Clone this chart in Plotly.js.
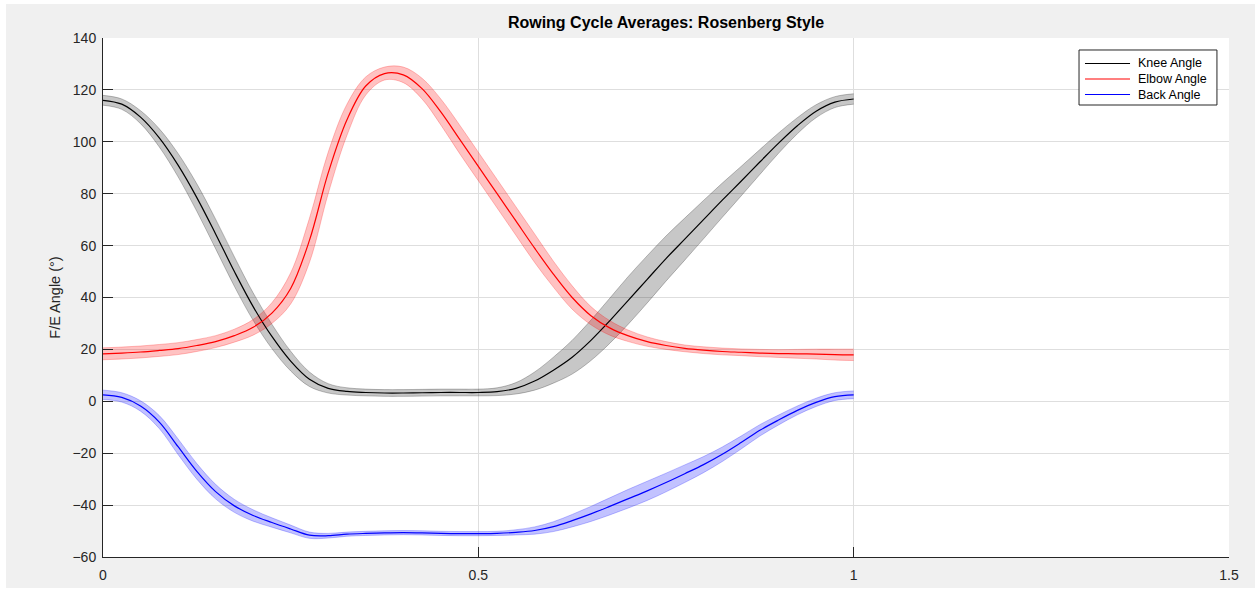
<!DOCTYPE html>
<html>
<head>
<meta charset="utf-8">
<script src="https://cdn.plot.ly/plotly-3.0.1.min.js"></script>
<style>
  html, body { margin: 0; padding: 0; background: #ffffff; width: 1255px; height: 589px; overflow: hidden; }
  #chart { position: absolute; left: 6px; top: 4px; width: 1249px; height: 584px; }
</style>
</head>
<body>
<div id="chart"></div>
<script>
// Normalised cycle position (shared x)
const cycle = [0,0.025,0.05,0.075,0.1,0.125,0.15,0.175,0.2,0.225,0.25,0.275,0.3,0.325,0.35,0.375,0.4,0.425,0.45,0.475,0.5,
               0.525,0.55,0.575,0.6,0.625,0.65,0.675,0.7,0.725,0.75,0.775,0.8,0.825,0.85,0.875,0.9,0.925,0.95,0.975,1.0];

// Knee angle mean and standard deviation (deg)
const kneeMean = [116,114.5,109.5,101.5,91,78.5,64.5,50,36.5,25,15.5,8.5,5,3.8,3.4,3.2,3.2,3.3,3.4,3.4,3.4,
                  3.7,5,7.8,12,17,23.5,31,39,47,55,62.5,70,77.5,84.8,92.2,99.5,106.2,111.8,115.3,116.5];
const kneeStd  = [1.9,2,2.5,3.5,4.5,5.3,5.7,5.7,5.3,4.7,3.8,2.8,1.8,1.4,1.3,1.3,1.3,1.3,1.3,1.3,1.3,
                  1.5,2.2,3.5,5,6.5,7.8,8.7,9.2,9.1,8.7,8.1,7.4,6.6,5.7,4.8,3.9,3.1,2.5,2.1,2];

// Elbow angle mean and standard deviation (deg)
const elbowMean = [18.3,18.6,19,19.6,20.3,21.5,23,25.3,28.5,34,43.5,62,88,108.5,121.5,126.3,125.8,120.5,111.5,101,90.5,
                   80,69.5,59,49,40,33,28.3,25.2,23,21.5,20.4,19.7,19.2,18.9,18.6,18.4,18.3,18.2,18,17.9];
const elbowStd  = [2.3,2.3,2.3,2.3,2.3,2.3,2.3,2.5,3,4,6,8.5,8,6,3.5,2.5,3,4,5,5.5,5.5,
                   5.5,5.5,5.5,5,4.5,3.5,2.8,2.2,1.8,1.5,1.3,1.3,1.3,1.3,1.4,1.5,1.7,1.9,2.1,2.2];

// Back angle mean and standard deviation (deg)
const backMean = [2.5,1.5,-1.8,-8,-17.5,-27,-34.8,-40.3,-44,-46.7,-49.2,-51.6,-51.8,-51.2,-50.9,-50.7,-50.6,-50.7,-50.9,-51,-51,
                  -50.9,-50.5,-49.8,-48.3,-46,-43.4,-40.5,-37.5,-34.5,-31.3,-27.9,-24.4,-20.4,-15.9,-11.2,-7.2,-3.5,-0.4,1.8,2.5];
const backStd  = [1.8,1.8,2,2.5,3,3,2.8,2.5,2.2,1.8,1.5,1.2,0.9,0.8,0.8,0.8,0.8,0.8,0.8,0.8,0.8,
                  0.8,1,1.4,1.9,2.4,2.9,3.3,3.6,3.7,3.6,3.4,3.1,2.8,2.5,2.2,1.9,1.7,1.6,1.5,1.5];

const seriesNames = ['Knee Angle', 'Elbow Angle', 'Back Angle'];
const xTicks = [0, 0.5, 1, 1.5];
const xTickText = ['0', '0.5', '1', '1.5'];
const yTicks = [-60, -40, -20, 0, 20, 40, 60, 80, 100, 120, 140];

const series = [
  { name: seriesNames[0], mean: kneeMean,  sd: kneeStd,  line: '#000000', fill: 'rgba(0,0,0,0.22)',    edge: 'rgba(0,0,0,0.30)' },
  { name: seriesNames[1], mean: elbowMean, sd: elbowStd, line: '#ff0000', fill: 'rgba(255,0,0,0.24)',  edge: 'rgba(255,0,0,0.30)' },
  { name: seriesNames[2], mean: backMean,  sd: backStd,  line: '#0000ff', fill: 'rgba(0,0,255,0.24)',  edge: 'rgba(0,0,255,0.30)' }
];

const traces = [];
series.forEach(s => {
  const upper = s.mean.map((m, i) => m + s.sd[i]);
  const lower = s.mean.map((m, i) => m - s.sd[i]);
  traces.push({ x: cycle, y: upper, type: 'scatter', mode: 'lines', showlegend: false, hoverinfo: 'skip',
                line: { color: s.edge, width: 0.8, shape: 'spline', smoothing: 1 } });
  traces.push({ x: cycle, y: lower, type: 'scatter', mode: 'lines', showlegend: false, hoverinfo: 'skip',
                fill: 'tonexty', fillcolor: s.fill,
                line: { color: s.edge, width: 0.8, shape: 'spline', smoothing: 1 } });
});
series.forEach(s => {
  traces.push({ x: cycle, y: s.mean, type: 'scatter', mode: 'lines', name: s.name, showlegend: false,
                line: { color: s.line, width: 1.2, shape: 'spline', smoothing: 1 } });
});

const fam = '"Liberation Sans", Arial, Helvetica, sans-serif';
const axisFont = { family: fam, size: 14, color: '#262626' };

// Legend box drawn in paper coordinates
const legBox = { x0: 0.8668, x1: 0.9893, y0: 0.8709, y1: 0.9769 };
const legRowsY = [0.9509, 0.9210, 0.8911];
const legLineX = [0.8721, 0.9121];
const legTextX = 0.9175;

const shapes = [{
  type: 'rect', xref: 'paper', yref: 'paper',
  x0: legBox.x0, x1: legBox.x1, y0: legBox.y0, y1: legBox.y1,
  line: { color: '#262626', width: 1 }, fillcolor: '#ffffff', layer: 'above'
}];
const annotations = [];
series.forEach((s, i) => {
  shapes.push({ type: 'line', xref: 'paper', yref: 'paper', x0: legLineX[0], x1: legLineX[1],
                y0: legRowsY[i], y1: legRowsY[i], line: { color: s.line, width: 1.2 }, layer: 'above' });
  annotations.push({ xref: 'paper', yref: 'paper', x: legTextX, y: legRowsY[i], xanchor: 'left', yanchor: 'middle',
                     text: s.name, showarrow: false, font: { family: fam, size: 12.5, color: '#000000' } });
});

const layout = {
  width: 1249, height: 584,
  paper_bgcolor: '#f0f0f0',
  plot_bgcolor: '#ffffff',
  margin: { l: 97, r: 26, t: 34, b: 31, pad: 0 },
  font: axisFont,
  title: {
    text: 'Rowing Cycle Averages: Rosenberg Style',
    font: { family: fam, size: 16, color: '#000000', weight: 'bold' },
    x: 0.5, xref: 'paper', xanchor: 'center',
    y: 1 - 18 / 584, yref: 'container', yanchor: 'middle'
  },
  xaxis: {
    range: [0, 1.5], tickvals: xTicks, ticktext: xTickText,
    ticks: 'inside', ticklen: 10, tickwidth: 1, tickcolor: '#262626',
    showline: true, linecolor: '#262626', linewidth: 1,
    showgrid: true, gridcolor: '#dedede', gridwidth: 1,
    zeroline: false, tickfont: axisFont, ticklabelstandoff: 5,
    fixedrange: true
  },
  yaxis: {
    range: [-60, 140], tickvals: yTicks,
    ticks: 'inside', ticklen: 10, tickwidth: 1, tickcolor: '#262626',
    showline: true, linecolor: '#262626', linewidth: 1,
    showgrid: true, gridcolor: '#dedede', gridwidth: 1,
    zeroline: false, tickfont: axisFont, ticklabelstandoff: 3,
    title: { text: 'F/E Angle (°)', font: { family: fam, size: 14.5, color: '#262626' }, standoff: 8 },
    fixedrange: true
  },
  shapes: shapes,
  annotations: annotations,
  showlegend: false
};

Plotly.newPlot('chart', traces, layout, { displayModeBar: false, staticPlot: true });
</script>
</body>
</html>
